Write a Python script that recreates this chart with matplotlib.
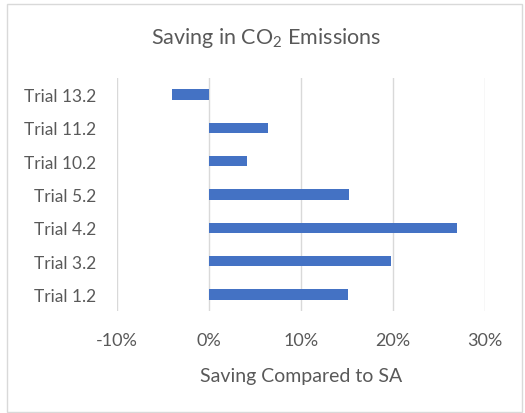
import matplotlib
matplotlib.use("Agg")
import matplotlib.pyplot as plt
from matplotlib.patches import Rectangle
from matplotlib.ticker import FuncFormatter

# data (bottom to top, as drawn)
trials = ["Trial 1.2", "Trial 3.2", "Trial 4.2", "Trial 5.2", "Trial 10.2", "Trial 11.2", "Trial 13.2"]
savings = [0.151, 0.198, 0.270, 0.152, 0.041, 0.064, -0.040]
x_ticks = [-0.1, 0.0, 0.1, 0.2, 0.3]

plt.rcParams['font.family'] = ['Lato', 'DejaVu Sans']
plt.rcParams['mathtext.fontset'] = 'custom'
plt.rcParams['mathtext.rm'] = 'Lato'
plt.rcParams['mathtext.default'] = 'regular'

text_col = '#595959'
W, H = 525, 414
fig = plt.figure(figsize=(W / 100, H / 100), dpi=100)
ax = fig.add_axes([117 / W, 1 - 312 / H, (485 - 117) / W, (312 - 79) / H])

ax.barh(range(len(trials)), savings, height=0.31, color='#4472C4', zorder=3)
ax.set_ylim(-0.5, len(trials) - 0.5)
ax.set_xlim(-0.1, 0.3)
ax.set_xticks(x_ticks)
ax.xaxis.set_major_formatter(FuncFormatter(lambda v, p: f"{v * 100:.0f}%"))
ax.set_yticks(range(len(trials)))
ax.set_yticklabels(trials)

ax.grid(axis='x', color='#D9D9D9', linewidth=1, zorder=0)
for s in ax.spines.values():
    s.set_visible(False)
ax.tick_params(length=0, labelsize=13, colors=text_col)
ax.tick_params(axis='y', labelsize=12.5, pad=15)
ax.tick_params(axis='x', pad=15)
ax.set_xlabel("Saving Compared to SA", fontsize=14, color=text_col, labelpad=14)

fig.text(266 / W, 1 - 38 / H, r"Saving in CO$_2$ Emissions", ha='center', va='center',
         fontsize=15.5, color=text_col)

# chart area border
fig.patches.append(Rectangle((7 / W, 1 - 413 / H), (522 - 7) / W, (413 - 5) / H,
                             transform=fig.transFigure, fill=False, edgecolor='#D9D9D9', linewidth=1))

fig.savefig("out.png", dpi=100)
